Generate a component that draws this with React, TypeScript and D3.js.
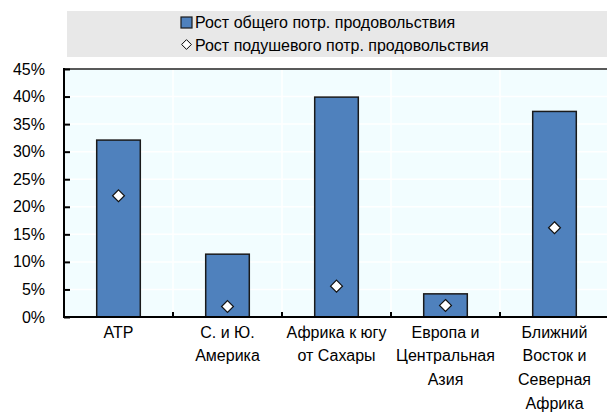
import * as d3 from "d3";
import { useEffect, useRef } from "react";

const regions = ["АТР", "С. и Ю. Америка", "Африка к югу от Сахары", "Европа и Центральная Азия", "Ближний Восток и Северная Африка"];
const regionLines = [
    ["АТР"],
    ["С. и Ю.", "Америка"],
    ["Африка к югу", "от Сахары"],
    ["Европа и", "Центральная", "Азия"],
    ["Ближний", "Восток и", "Северная", "Африка"],
];
const totalGrowth = [32.1, 11.4, 39.9, 4.2, 37.3];
const perCapitaGrowth = [22.0, 1.9, 5.6, 2.1, 16.2];
const yTicks = [0, 5, 10, 15, 20, 25, 30, 35, 40, 45];
const legendLabels = ["Рост общего потр. продовольствия", "Рост подушевого потр. продовольствия"];

const W = 607;
const H = 412;
const FONT = "'Liberation Sans', Arial, sans-serif";

export default function App() {
    const ref = useRef<SVGSVGElement | null>(null);

    useEffect(() => {
        if (!ref.current) return;
        document.body.style.margin = "0";

        const margin = { top: 69, right: -2, bottom: 95, left: 64 };
        const svg = d3.select(ref.current);
        svg.selectAll("*").remove();

        const x = d3.scaleBand<string>()
            .domain(regions)
            .range([margin.left, W - margin.right])
            .padding(0);

        const y = d3.scaleLinear()
            .domain([0, 45])
            .range([H - margin.bottom, margin.top]);

        const x0 = margin.left;
        const x1 = W - margin.right;
        const y0 = y(0);
        const yTop = y(45);

        // legend box
        svg.append("rect")
            .attr("x", 67).attr("y", 11)
            .attr("width", W - 67).attr("height", 46)
            .attr("fill", "#e8e8e8");

        const lg = svg.append("g").attr("font-family", FONT).attr("font-size", 16).attr("fill", "#000");
        lg.append("rect")
            .attr("x", 181).attr("y", 17).attr("width", 11).attr("height", 11)
            .attr("fill", "#4f81bd").attr("stroke", "#1a1a1a").attr("stroke-width", 1.2);
        lg.append("path")
            .attr("d", d3.symbol(d3.symbolDiamond2, 60)())
            .attr("transform", "translate(186.5,44.5)")
            .attr("fill", "#fff").attr("stroke", "#000").attr("stroke-width", 1);
        legendLabels.forEach((t, i) => {
            lg.append("text")
                .attr("x", 195).attr("y", 22 + i * 23)
                .attr("dy", "0.35em")
                .text(t);
        });

        // plot background
        svg.append("rect")
            .attr("x", x0).attr("y", yTop)
            .attr("width", x1 - x0).attr("height", y0 - yTop)
            .attr("fill", "#f2fdff");

        // grid
        const grid = svg.append("g").attr("stroke", "#fff").attr("stroke-width", 1.5);
        grid.selectAll("line.h")
            .data(yTicks.slice(1))
            .join("line")
            .attr("x1", x0).attr("x2", x1)
            .attr("y1", (d) => y(d)).attr("y2", (d) => y(d));
        grid.selectAll("line.v")
            .data(regions.slice(1))
            .join("line")
            .attr("class", "v")
            .attr("x1", (d) => x(d)!).attr("x2", (d) => x(d)!)
            .attr("y1", yTop).attr("y2", y0);

        // bars
        const bw = x.bandwidth() * 0.4;
        svg.append("g")
            .selectAll("rect")
            .data(totalGrowth)
            .join("rect")
            .attr("x", (_, i) => x(regions[i])! + (x.bandwidth() - bw) / 2)
            .attr("y", (d) => y(d))
            .attr("width", bw)
            .attr("height", (d) => y0 - y(d))
            .attr("fill", "#4f81bd")
            .attr("stroke", "#1a1a1a")
            .attr("stroke-width", 1.5);

        // diamonds
        svg.append("g")
            .selectAll("path")
            .data(perCapitaGrowth)
            .join("path")
            .attr("d", d3.symbol(d3.symbolDiamond2, 90)())
            .attr("transform", (d, i) => `translate(${x(regions[i])! + x.bandwidth() / 2},${y(d)})`)
            .attr("fill", "#fff")
            .attr("stroke", "#111")
            .attr("stroke-width", 1.2);

        // frame top
        svg.append("line")
            .attr("x1", x0).attr("x2", x1).attr("y1", yTop).attr("y2", yTop)
            .attr("stroke", "#222").attr("stroke-width", 1.5);

        // y axis
        const yAxis = svg.append("g")
            .attr("transform", `translate(${x0},0)`)
            .call(d3.axisRight(y).tickValues(yTicks).tickSize(6).tickFormat(() => ""));
        yAxis.select(".domain").remove();
        yAxis.selectAll("line").attr("stroke", "#000").attr("stroke-width", 2);
        svg.append("line")
            .attr("x1", x0).attr("x2", x0).attr("y1", yTop - 1).attr("y2", y0 + 1)
            .attr("stroke", "#000").attr("stroke-width", 2);

        svg.append("g")
            .attr("font-family", FONT).attr("font-size", 16).attr("text-anchor", "end")
            .selectAll("text")
            .data(yTicks)
            .join("text")
            .attr("x", 45)
            .attr("y", (d) => y(d))
            .attr("dy", "0.35em")
            .text((d) => `${d}%`);

        // x axis
        svg.append("g")
            .selectAll("line")
            .data(regions.slice(1))
            .join("line")
            .attr("x1", (d) => x(d)!).attr("x2", (d) => x(d)!)
            .attr("y1", y0).attr("y2", y0 - 5)
            .attr("stroke", "#000").attr("stroke-width", 2);
        svg.append("line")
            .attr("x1", x0 - 1).attr("x2", x1).attr("y1", y0).attr("y2", y0)
            .attr("stroke", "#000").attr("stroke-width", 2);

        const xl = svg.append("g").attr("font-family", FONT).attr("font-size", 16).attr("text-anchor", "middle");
        regionLines.forEach((lines, i) => {
            const cx = x(regions[i])! + x.bandwidth() / 2;
            const t = xl.append("text").attr("x", cx).attr("y", 332).attr("dy", "0.35em");
            lines.forEach((ln, j) => {
                t.append("tspan").attr("x", cx).attr("dy", j === 0 ? "0.35em" : "23.7").text(ln);
            });
        });
    }, []);

    return (
        <div style={{ position: "absolute", left: 0, top: 0, width: W, height: H, background: "#fff" }}>
            <svg ref={ref} width={W} height={H} style={{ display: "block" }}></svg>
        </div>
    );
}
